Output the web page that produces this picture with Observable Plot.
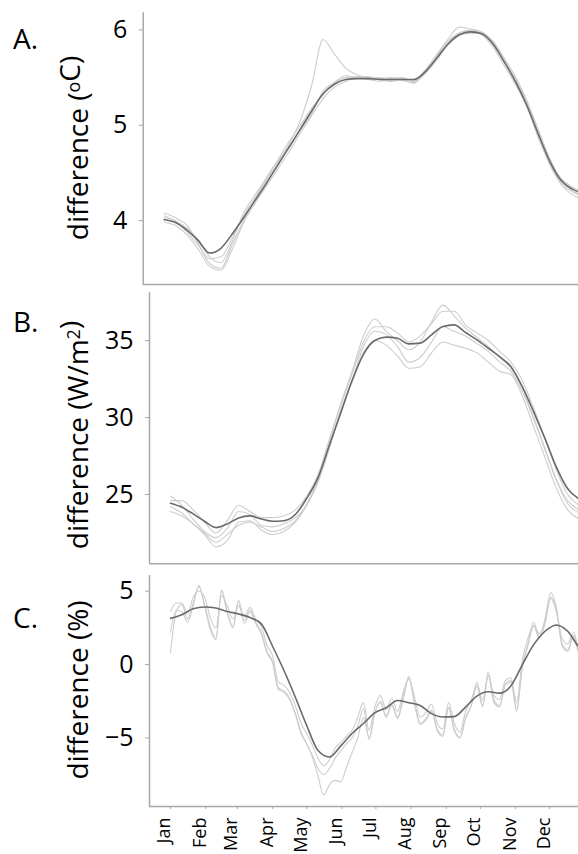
<!DOCTYPE html>
<html>
<head>
<meta charset="utf-8">
<script src="https://cdn.jsdelivr.net/npm/d3@7"></script>
<script src="https://cdn.jsdelivr.net/npm/@observablehq/plot@0.6"></script>
<style>
  html, body { margin: 0; padding: 0; background: #fff; }
  #chart { width: 578px; height: 854px; overflow: hidden; }
  #chart svg { display: block; }
</style>
</head>
<body>
<div id="chart"></div>
<script>
// ---- data (day of year, 0 = Jan 1) ----
const days = [0,10,20,30,40,50,60,70,80,90,100,110,120,130,140,150,160,170,180,190,200,210,220,230,240,250,260,270,280,290,300,310,320,330,340,350,360,370];
const days5 = [0,5,10,15,20,25,30,35,40,45,50,55,60,65,70,75,80,85,90,95,100,105,110,115,120,125,130,135,140,145,150,155,160,165,170,175,180,185,190,195,200,205,210,215,220,225,230,235,240,245,250,255,260,265,270,275,280,285,290,295,300,305,310,315,320,325,330,335,340,345,350,355,360,365,370];

const monthNames = ["Jan","Feb","Mar","Apr","May","Jun","Jul","Aug","Sep","Oct","Nov","Dec"];
const monthDays = [0,31,59,90,120,151,181,212,243,273,304,334];

// A. temperature difference (oC)
const tempMean = [4.01,3.98,3.90,3.79,3.66,3.71,3.86,4.03,4.21,4.39,4.58,4.77,4.96,5.15,5.33,5.43,5.48,5.49,5.49,5.48,5.48,5.48,5.48,5.56,5.70,5.85,5.95,5.98,5.96,5.85,5.66,5.45,5.20,4.90,4.62,4.42,4.33,4.28];
const tempM1 = [4.05,3.99,3.88,3.74,3.60,3.62,3.82,4.05,4.24,4.42,4.60,4.80,5.05,5.42,5.90,5.75,5.60,5.53,5.50,5.49,5.50,5.49,5.47,5.55,5.72,5.88,5.97,6.00,5.97,5.86,5.66,5.46,5.22,4.90,4.60,4.40,4.30,4.26];
const tempM2 = [4.08,4.03,3.95,3.76,3.55,3.50,3.75,4.00,4.22,4.45,4.63,4.83,5.00,5.18,5.32,5.44,5.50,5.51,5.49,5.50,5.47,5.50,5.46,5.58,5.74,5.90,6.03,6.01,5.98,5.88,5.70,5.50,5.25,4.95,4.65,4.43,4.31,4.27];
const tempM3 = [3.98,3.95,3.85,3.70,3.52,3.48,3.70,3.98,4.18,4.36,4.54,4.72,4.92,5.10,5.28,5.40,5.46,5.50,5.48,5.46,5.49,5.47,5.45,5.54,5.68,5.84,5.94,5.99,5.95,5.82,5.62,5.42,5.18,4.86,4.58,4.38,4.27,4.22];
const tempM4 = [4.03,4.00,3.92,3.80,3.62,3.56,3.78,4.08,4.27,4.44,4.62,4.76,4.95,5.12,5.36,5.45,5.52,5.50,5.51,5.48,5.46,5.48,5.44,5.57,5.71,5.86,5.96,5.96,5.97,5.87,5.68,5.48,5.24,4.92,4.62,4.44,4.35,4.30];

// B. radiation difference (W/m2)
const radMean = [24.43,24.17,23.74,23.26,22.85,23.09,23.48,23.61,23.41,23.26,23.30,23.70,24.75,26.10,28.20,30.30,32.40,34.10,35.00,35.22,35.15,34.78,34.83,35.37,35.91,36.02,35.52,35.04,34.50,33.95,33.30,32.00,30.37,28.63,26.78,25.37,24.72,24.40];
const radM1 = [24.9,24.3,23.4,22.6,22.2,22.8,23.9,23.7,23.0,22.9,23.1,23.5,24.3,25.9,28.4,30.9,33.0,35.3,36.4,35.6,35.0,34.4,34.9,36.2,37.3,36.6,35.8,35.2,34.6,33.9,33.2,31.9,30.0,28.0,26.0,24.6,24.0,23.7];
const radM2 = [24.2,23.8,23.1,22.5,21.9,22.4,23.0,23.2,22.9,22.6,22.8,23.3,24.4,26.0,28.1,30.5,32.4,34.6,35.6,35.4,34.6,33.6,33.9,34.9,35.9,35.6,35.3,34.8,34.3,33.6,33.0,31.7,29.9,27.9,25.9,24.4,23.8,23.5];
const radM3 = [24.6,24.6,24.0,23.2,22.5,23.3,24.3,23.9,23.5,23.5,23.6,24.0,24.9,26.3,28.6,30.8,32.8,34.9,35.9,35.9,35.5,34.9,35.3,36.1,36.9,36.9,36.0,35.5,35.0,34.3,33.6,32.4,30.6,28.6,26.6,25.0,24.3,24.0];
const radM4 = [23.9,23.6,23.1,22.4,21.6,22.0,23.2,23.3,22.7,22.4,22.6,23.2,24.3,25.8,28.0,30.4,32.3,34.2,35.0,34.7,34.0,33.2,33.3,34.2,34.9,34.7,34.5,34.2,33.6,33.0,32.8,31.4,29.4,27.4,25.4,24.0,23.4,23.1];

// C. precipitation difference (%) — mean on 10-day steps, members on 5-day steps
const precMean = [3.15,3.40,3.80,3.92,3.85,3.62,3.45,3.20,2.77,1.23,-0.41,-2.23,-4.16,-5.86,-6.30,-5.55,-4.70,-4.02,-3.30,-2.95,-2.45,-2.60,-2.80,-3.35,-3.58,-3.55,-2.90,-2.15,-1.86,-1.95,-1.45,-0.02,1.36,2.27,2.70,2.27,1.18,0.60];
const precM1 = [0.8,3.6,4.1,3.1,4.2,5.3,4.1,2.6,1.8,5.1,3.6,2.6,4.3,3.0,3.7,2.9,2.2,0.9,0.2,-1.6,-1.8,-2.3,-3.3,-4.6,-5.4,-6.3,-7.6,-8.9,-8.2,-7.9,-8.0,-7.0,-6.0,-5.0,-3.6,-5.0,-3.3,-2.5,-3.5,-2.7,-3.6,-2.2,-0.8,-2.6,-4.0,-3.7,-3.1,-4.4,-4.8,-2.9,-4.4,-5.0,-3.6,-2.8,-1.2,-2.8,-0.5,-2.4,-2.8,-1.3,-1.1,-3.2,-0.1,1.4,2.9,1.9,3.1,4.9,3.9,1.4,1.0,2.0,0.8,1.2,0.9];
const precM2 = [3.6,4.2,4.2,3.5,4.6,5.0,4.6,3.2,2.5,4.7,4.0,3.1,4.0,3.3,3.9,3.1,2.6,1.3,0.6,-1.2,-1.4,-1.9,-2.8,-4.0,-4.7,-5.5,-6.4,-6.9,-6.5,-5.7,-5.3,-4.9,-4.5,-3.6,-2.6,-4.5,-2.9,-2.1,-3.1,-2.3,-3.2,-1.9,-1.0,-2.2,-3.6,-3.3,-2.7,-4.0,-4.4,-2.6,-4.0,-4.6,-3.2,-2.4,-1.4,-2.4,-0.8,-2.1,-2.4,-1.1,-0.9,-2.6,0.3,1.8,2.7,2.1,2.9,4.5,3.6,1.8,1.4,2.2,1.2,1.5,1.1];
const precM3 = [2.2,3.7,3.6,2.9,4.0,5.4,4.0,2.4,1.7,5.0,3.5,2.5,4.4,2.8,3.6,2.8,2.1,0.8,0.1,-1.7,-1.9,-2.4,-3.4,-4.7,-5.4,-6.2,-7.1,-7.5,-7.1,-6.4,-5.9,-5.4,-5.0,-4.2,-3.0,-5.1,-3.3,-2.6,-3.6,-2.8,-3.7,-2.4,-0.9,-2.7,-4.1,-3.8,-3.2,-4.5,-4.9,-3.0,-4.5,-5.0,-3.7,-2.8,-1.5,-2.9,-0.7,-2.6,-2.9,-1.4,-1.2,-3.0,-0.2,1.3,2.6,1.8,2.8,4.6,3.7,1.3,0.9,1.9,0.8,1.2,0.8];

const tempTicks = [4,5,6];
const radTicks = [25,30,35];
const precTicks = [-5,0,5];

// ---- helpers ----
function rows(values, series, xs) {
  return values.map((v, i) => ({day: xs[i], value: v, series}));
}
function memberRows(list, xs) {
  return list.flatMap((vals, k) => rows(vals, "m" + k, xs));
}

const FONT = "Open Sans, Noto Sans, sans-serif";
const AXIS_GRAY = "#a8a8a8";

function panel(o) {
  const marks = [
    Plot.line(memberRows(o.members, o.memberDays), {x: "day", y: "value", z: "series", stroke: "#cdcdcd", strokeWidth: 1.1, curve: "monotone-x", clip: true}),
    Plot.line(rows(o.mean, "mean", days), {x: "day", y: "value", stroke: "#6a6a6a", strokeWidth: 1.6, curve: "monotone-x", clip: true}),
    Plot.ruleX([o.xDomain[0]], {stroke: AXIS_GRAY, strokeWidth: 1.5}),
    Plot.ruleY([o.yDomain[0]], {stroke: AXIS_GRAY, strokeWidth: 1.5}),
    Plot.axisY({ticks: o.yTicks, tickFormat: d3.format("d"), tickSize: 4, tickPadding: 12, fontSize: 25, label: null, stroke: AXIS_GRAY, fill: "#000"})
  ];
  if (o.months) {
    marks.push(Plot.axisX({ticks: monthDays, tickSize: 3, tickFormat: () => "", label: null, stroke: AXIS_GRAY}));
    marks.push(Plot.text(monthDays, {x: d => d, text: (d, i) => monthNames[i], frameAnchor: "bottom", rotate: -90, textAnchor: "end", lineAnchor: "bottom", dy: 11, fontSize: 18, fill: "#000"}));
  }
  return Plot.plot({
    width: 578,
    height: o.height,
    marginLeft: o.marginLeft,
    marginRight: 0,
    marginTop: o.marginTop,
    marginBottom: o.marginBottom,
    style: {fontFamily: FONT, background: "white", overflow: "visible"},
    x: {domain: o.xDomain, axis: o.months ? undefined : null},
    y: {domain: o.yDomain},
    marks
  });
}

const chartA = panel({
  mean: tempMean, members: [tempM1, tempM2, tempM3, tempM4], memberDays: days,
  xDomain: [-18.5, 365.2], yDomain: [3.33, 6.18], yTicks: tempTicks,
  marginLeft: 142.7, marginTop: 12.3, marginBottom: 4, height: 288, months: false
});
const chartB = panel({
  mean: radMean, members: [radM1, radM2, radM3, radM4], memberDays: days,
  xDomain: [-18.5, 359.5], yDomain: [20.5, 38.1], yTicks: radTicks,
  marginLeft: 149, marginTop: 4.3, marginBottom: 4.7, height: 280, months: false
});
const chartC = panel({
  mean: precMean, members: [precM1, precM2, precM3], memberDays: days5,
  xDomain: [-18.5, 359.5], yDomain: [-9.68, 6.07], yTicks: precTicks,
  marginLeft: 149, marginTop: 7, marginBottom: 48, height: 286, months: true
});

const root = document.getElementById("chart");
[chartA, chartB, chartC].forEach(c => root.appendChild(c));

// ---- panel letters and rotated axis titles ----
function addTitle(svg, letter, letterY, titleY, parts) {
  const s = d3.select(svg);
  s.append("text").attr("x", 13).attr("y", letterY)
    .attr("text-anchor", "start")
    .attr("font-family", FONT).attr("font-size", 28).attr("fill", "#000")
    .text(letter);
  const t = s.append("text")
    .attr("transform", `translate(88,${titleY}) rotate(-90)`)
    .attr("text-anchor", "middle")
    .attr("font-family", FONT).attr("font-size", 28).attr("fill", "#000");
  parts.forEach(p => {
    if (p.sup) {
      t.append("tspan").attr("dy", "-0.42em").attr("font-size", 18).text(p.text);
      t.append("tspan").attr("dy", "0.42em").text("");
    } else {
      t.append("tspan").text(p.text);
    }
  });
}
addTitle(chartA, "A.", 49.3, 148, [{text: "difference ("}, {text: "o", sup: true}, {text: "C)"}]);
addTitle(chartB, "B.", 44, 147, [{text: "difference (W/m"}, {text: "2", sup: true}, {text: ")"}]);
addTitle(chartC, "C.", 60, 122, [{text: "difference (%)"}]);
</script>
</body>
</html>
